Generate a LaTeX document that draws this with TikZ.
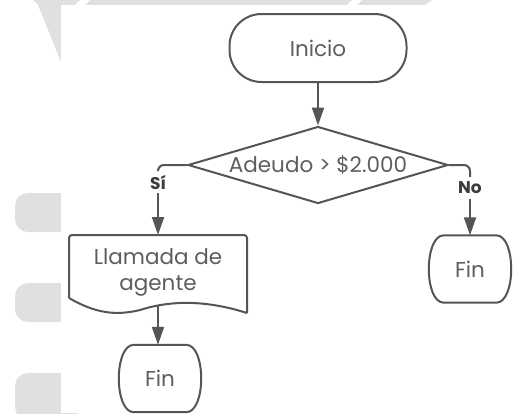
\documentclass[tikz,border=0pt]{standalone}
\usepackage{fontspec}
\setmainfont{Poppins}
\usetikzlibrary{shapes.geometric,arrows.meta}
\definecolor{lncol}{HTML}{555555}
\definecolor{txcol}{HTML}{5E5E5E}
\definecolor{lbcol}{HTML}{3C3C3C}
\definecolor{wmcol}{HTML}{E0E0E0}
\tikzset{
 lnst/.style={draw=lncol, line width=2pt},
 arr/.style={lnst, -{Triangle[length=18pt,width=12pt]}},
 txt/.style={text=txcol, font=\fontsize{21.5}{26}\selectfont},
 lbl/.style={text=lbcol, font=\fontsize{17}{20}\bfseries\selectfont, inner sep=0pt, minimum height=22pt},
 finbox/.style={txt, minimum width=82pt, minimum height=67pt, inner sep=0pt},
 wm/.style={fill=wmcol, draw=none},
}
\newcommand{\finshape}[1]{%
 \draw[lnst] ([xshift=15pt]#1.north west) -- ([xshift=-15pt]#1.north east)
  .. controls ([xshift=5pt]#1.north east) and ([xshift=5pt]#1.south east) .. ([xshift=-15pt]#1.south east)
  -- ([xshift=15pt]#1.south west)
  .. controls ([xshift=-5pt]#1.south west) and ([xshift=-5pt]#1.north west) .. cycle;}
\begin{document}
\begin{tikzpicture}[x=1pt,y=-1pt]
\useasboundingbox (0,0) rectangle (513,413);
% watermark background
\fill[wm, rounded corners=13pt] (15,193) rectangle (80,232);
\fill[wm, rounded corners=13pt] (15,283) rectangle (80,322);
\fill[wm, rounded corners=13pt] (15,373) rectangle (80,420);
\fill[wm] (36,0) -- (61,0) -- (61,62) -- cycle;
\fill[wm] (33,0) -- (432,0) -- (424,6) -- (40,6) -- cycle;
\fill[white] (80,0) -- (90,0) -- (84,6) -- (74,6) -- cycle;
\fill[white] (352,0) -- (362,0) -- (356,6) -- (346,6) -- cycle;
\fill[white] (61,5) rectangle (513,413);
% nodes
\node[lnst, txt, rounded corners=32pt, minimum width=177pt, minimum height=68pt] (ini) at (318,48) {Inicio};
\node[lnst, txt, diamond, aspect=3.38, inner sep=0pt, minimum width=260pt, minimum height=77pt] (dia) at (318,165) {Adeudo > \$2.000};
\node[lbl] (si) at (158,182) {Sí};
\node[lbl] (no) at (470,188) {No};
\coordinate (doctop) at (158,235);
\coordinate (docb) at (158,306);
\draw[lnst, rounded corners=3pt] (69,298) -- (69,235) -- (247,235) -- (247,313);
\draw[lnst] (247,313) .. controls (200,298) and (165,302) .. (140,310)
  .. controls (115,316) and (95,313) .. (69,298);
\node[txt, align=center] (doc) at (158,272) {Llamada de\\agente};
\node[finbox] (finL) at (160,378.5) {Fin};
\node[finbox] (finR) at (470,269) {Fin};
\finshape{finL}
\finshape{finR}
% connectors
\draw[arr] (ini) -- (dia);
\draw[lnst, rounded corners=6pt] (dia.west) -| (si.north);
\draw[arr] (si.south) -- (doctop);
\draw[lnst, rounded corners=6pt] (dia.east) -| (no.north);
\draw[arr] (no.south) -- (finR.north);
\draw[arr] (docb) -- (docb |- finL.north);
\end{tikzpicture}
\end{document}
